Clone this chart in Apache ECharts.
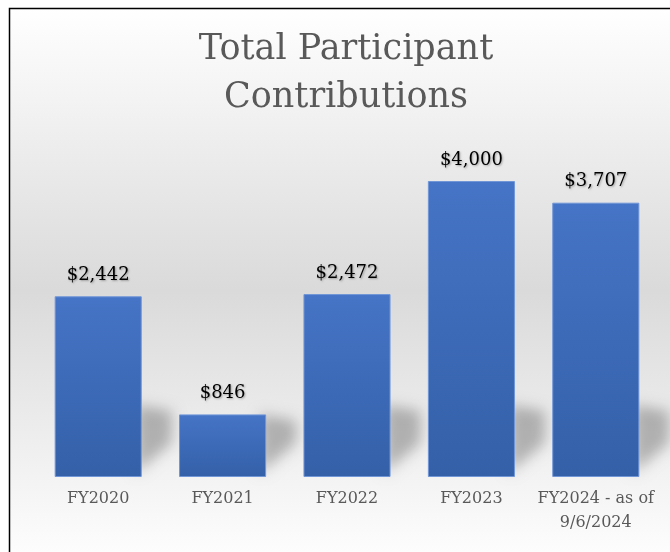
<!DOCTYPE html>
<html>
<head>
<meta charset="utf-8">
<script src="https://cdn.jsdelivr.net/npm/echarts@6/dist/echarts.min.js"></script>
<style>
  html, body { margin: 0; padding: 0; background: #fff; }
  #chart { width: 670px; height: 552px; }
</style>
</head>
<body>
<div id="chart"></div>
<script>
// fiscal years and total contributions
var categories = ['FY2020', 'FY2021', 'FY2022', 'FY2023', 'FY2024 - as of\n9/6/2024'];
var contributions = [2442, 846, 2472, 4000, 3707];
var titleText = 'Total Participant\nContributions';

var serif = '"DejaVu Serif", "Liberation Serif", serif';

var chart = echarts.init(document.getElementById('chart'));

// soft floor shadow behind the right edge of each bar
// (shape drawn off to the side, only its blurred shadow lands next to the bar)
var OFF = 2000;
function renderShadow(params, api) {
    var base = api.coord([api.value(0), 0]);
    var top = api.coord([api.value(0), api.value(1)]);
    var size = api.size([1, 0]);
    var xR = base[0] + size[0] * 0.35;
    var y = base[1];
    var h = Math.min(72, y - top[1]);
    return {
        type: 'polygon',
        shape: {
            points: [
                [xR - 6 + OFF, y - 4],
                [xR - 6 + OFF, y - h],
                [xR + 30 + OFF, y - h + 6],
                [xR + 30 + OFF, y - 34]
            ]
        },
        style: {
            fill: '#000',
            shadowBlur: 14,
            shadowColor: 'rgba(0,0,0,0.26)',
            shadowOffsetX: -OFF,
            shadowOffsetY: 0
        }
    };
}

chart.setOption({
    animation: false,
    graphic: [{
        type: 'rect',
        z: -10,
        silent: true,
        shape: { x: 9.5, y: 8.5, width: 700, height: 600 },
        style: {
            stroke: '#000',
            lineWidth: 1.5,
            fill: new echarts.graphic.LinearGradient(0, 0, 0, 1, [
                { offset: 0, color: '#ffffff' },
                { offset: 0.47, color: '#dadada' },
                { offset: 0.93, color: '#ffffff' },
                { offset: 1, color: '#ffffff' }
            ])
        }
    }, {
        type: 'text',
        silent: true,
        x: 346,
        y: 26,
        style: {
            text: titleText,
            align: 'center',
            verticalAlign: 'top',
            font: 'normal 35px ' + serif,
            lineHeight: 48,
            fill: '#595959'
        }
    }],
    grid: { left: 36, right: 12, top: 144, bottom: 75 },
    xAxis: {
        type: 'category',
        data: categories,
        axisLine: { show: false },
        axisTick: { show: false },
        axisLabel: {
            margin: 10,
            fontFamily: serif,
            fontSize: 16,
            lineHeight: 24,
            color: '#595959',
            interval: 0
        }
    },
    yAxis: {
        type: 'value',
        min: 0,
        max: 4500,
        show: false,
        splitLine: { show: false }
    },
    series: [{
        type: 'custom',
        data: contributions,
        renderItem: renderShadow,
        silent: true,
        z: 1
    }, {
        type: 'bar',
        data: contributions,
        barCategoryGap: '30%',
        z: 2,
        itemStyle: {
            color: new echarts.graphic.LinearGradient(0, 0, 0, 1, [
                { offset: 0, color: '#4674c6' },
                { offset: 1, color: '#3460a8' }
            ]),
            borderColor: '#7096d8',
            borderWidth: 1
        },
        label: {
            show: true,
            position: 'top',
            distance: 12,
            fontFamily: serif,
            fontSize: 18,
            color: '#000',
            textShadowColor: 'rgba(0,0,0,0.3)',
            textShadowBlur: 2,
            textShadowOffsetX: 1,
            textShadowOffsetY: 1,
            formatter: function (p) {
                return '$' + p.value.toLocaleString('en-US');
            }
        }
    }]
});
</script>
</body>
</html>
